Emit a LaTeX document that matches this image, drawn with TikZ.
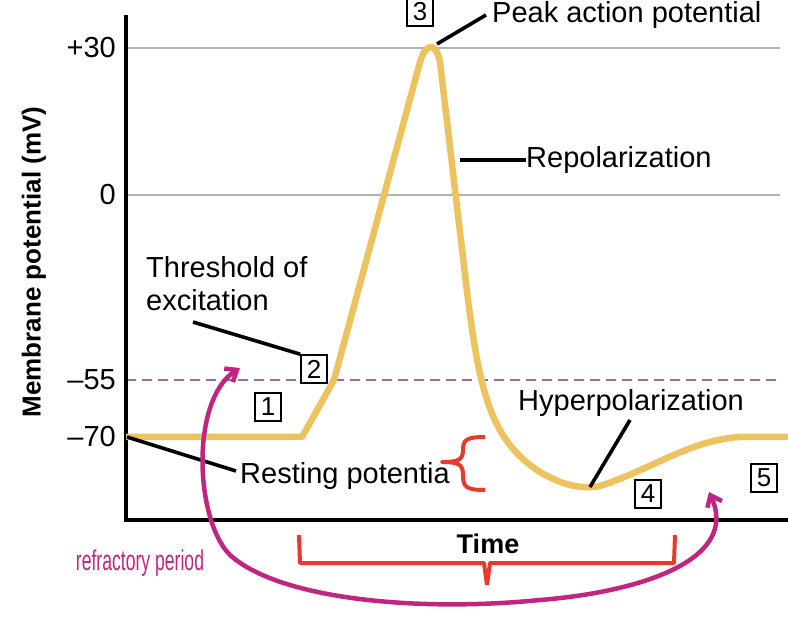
\documentclass[tikz,border=0pt]{standalone}
\usepackage{fontspec}
\setmainfont{Liberation Sans}
\usetikzlibrary{arrows.meta}
\definecolor{curve}{HTML}{EDC35F}
\definecolor{mag}{HTML}{C0267F}
\definecolor{bred}{HTML}{E8392A}
\definecolor{dashcol}{HTML}{9B6B9E}
\begin{document}
\begin{tikzpicture}[x=1pt,y=-1pt,
  lbl/.style={font=\fontsize{29}{31}\selectfont,inner sep=0pt},
  num/.style={draw,line width=1.6pt,font=\fontsize{26}{28}\selectfont,minimum width=26pt,minimum height=28pt,inner sep=0pt,fill=white},
  lead/.style={line width=3.6pt},
  grid/.style={gray!60,line width=1.5pt}]
\useasboundingbox (0,0) rectangle (788,620);
% grid
\draw[grid] (126,48) -- (780,48);
\draw[grid] (126,195) -- (780,195);
\draw[dashcol,line width=1.8pt,dash pattern=on 10pt off 6pt] (126,380) -- (780,380);
% axes
\draw[line width=4pt] (126,15) -- (126,520) -- (788,520);
\node[lbl,anchor=east] (t30) at (116,48) {+30};
\node[lbl,anchor=east] (t0) at (116,195) {0};
\node[lbl,anchor=east] (t55) at (116,380) {–55};
\node[lbl,anchor=east] (t70) at (116,437) {–70};
\node[lbl,font=\bfseries\fontsize{26}{28}\selectfont,rotate=90] (ylab) at (34,262) {Membrane potential (mV)};
\node[lbl,font=\bfseries\fontsize{27}{29}\selectfont] (time) at (488,544) {Time};
% curve
\draw[curve,line width=6.5pt,line join=round]
  (126,437) -- (302,437) -- (334,380) -- (420,62)
  .. controls (426,42) and (436,42) .. (440,62)
  -- (468,300) .. controls (480,390) and (490,440) .. (540,472)
  .. controls (560,484) and (580,490) .. (600,486)
  .. controls (650,470) and (690,440) .. (740,437) -- (788,437);
% number boxes
\node[num] (b3) at (420,12) {3};
\node[num] (b2) at (314,369) {2};
\node[num] (b1) at (268,407) {1};
\node[num] (b4) at (648,494) {4};
\node[num] (b5) at (764,478) {5};
% labels
\node[lbl,anchor=west] (peak) at (492,15) {Peak action potential};
\node[lbl,anchor=west] (repol) at (526,160) {Repolarization};
\node[lbl,anchor=west,align=left,font=\fontsize{29}{33}\selectfont] (thr) at (146,284) {Threshold of\\excitation};
\node[lbl,anchor=west] (rest) at (240,476) {Resting potentia};
\node[lbl,anchor=west] (hyp) at (518,403) {Hyperpolarization};
\coordinate (pk) at (437,44);
\coordinate (rp) at (460,160);
\coordinate (rs) at (127,437);
\coordinate (hp) at (590,487);
\draw[lead] (pk) -- (486,15);
\draw[lead] (rp) -- (repol.west);
\draw[lead] (193,322) -- (b2.north west);
\draw[lead] (rs) -- (236,471);
\draw[lead] (hp) -- (630,420);
% red braces
\draw[bred,line width=4pt,line join=round] (485,437) .. controls (466,437) and (463,440) .. (463,450)
  .. controls (463,460) and (458,462) .. (442,462)
  .. controls (458,462) and (463,464) .. (463,475)
  .. controls (463,487) and (466,490) .. (485,490);
\draw[bred,line width=4pt,line join=round] (299,535) -- (300,563) -- (484,563) -- (487,585);
\draw[bred,line width=4pt,line join=round] (675,535) -- (674,563) -- (490,563) -- (487,585);
% magenta arrow
\draw[mag,line width=4.5pt,{Straight Barb[length=10pt,width=16pt]}-{Straight Barb[length=10pt,width=16pt]}]
  (240,368) .. controls (190,400) and (195,520) .. (230,555)
  .. controls (280,600) and (420,612) .. (540,600)
  .. controls (640,592) and (740,560) .. (709,492);
\node[font=\fontsize{22}{24}\selectfont,text=mag,inner sep=0pt,yscale=1.3,xscale=0.8] (refr) at (140,563) {refractory period};
\end{tikzpicture}
\end{document}
